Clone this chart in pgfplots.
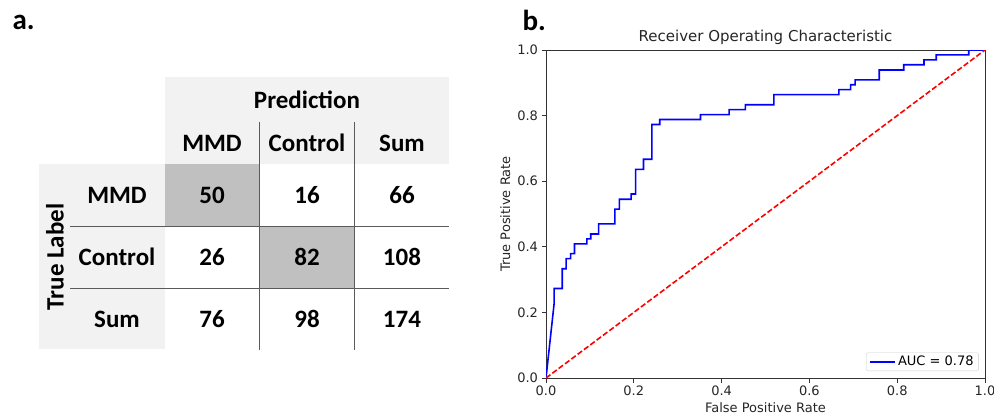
\documentclass[border=0pt]{standalone}
\usepackage{fontspec}
\setmainfont{DejaVu Sans}
\newfontfamily\calib{Carlito}
\usepackage{pgfplots}
\pgfplotsset{compat=1.18}
\usepackage{pgfplotstable}

\definecolor{cellgray}{HTML}{C0C0C0}
\definecolor{headgray}{HTML}{F2F2F2}
\definecolor{rulegray}{HTML}{5A5A5A}

% confusion matrix cells: x, y in pixel units of panel a
\pgfplotstableread{
x   y   label
212 195 50
307 195 16
402 195 66
212 257 26
307 257 82
402 257 108
212 319 76
307 319 98
402 319 174
}\cmtable

\pgfplotstableread{
fpr    tpr
0      0
0.0185 0.227
0.0185 0.273
0.037  0.273
0.037  0.333
0.046  0.333
0.046  0.364
0.056  0.364
0.056  0.379
0.065  0.379
0.065  0.409
0.093  0.409
0.093  0.424
0.102  0.424
0.102  0.439
0.120  0.439
0.120  0.470
0.157  0.470
0.157  0.515
0.167  0.515
0.167  0.545
0.194  0.545
0.194  0.561
0.204  0.561
0.204  0.636
0.222  0.636
0.222  0.667
0.241  0.667
0.241  0.773
0.259  0.773
0.259  0.788
0.352  0.788
0.352  0.803
0.417  0.803
0.417  0.818
0.454  0.818
0.454  0.833
0.519  0.833
0.519  0.864
0.667  0.864
0.667  0.879
0.694  0.879
0.694  0.894
0.704  0.894
0.704  0.909
0.759  0.909
0.759  0.939
0.815  0.939
0.815  0.955
0.861  0.955
0.861  0.970
0.889  0.970
0.889  0.985
0.963  0.985
0.963  1.0
1      1
}\roctable

\newcommand{\tabfont}{\calib\bfseries\fontsize{25}{30}\selectfont}
\newcommand{\rocfont}{\fontsize{13}{15}\selectfont}

\begin{document}
\begin{tikzpicture}
\useasboundingbox (0pt,0pt) rectangle (994pt,-418pt);

% ---- panel a: confusion matrix ----
\begin{axis}[
    at={(0pt,0pt)}, anchor=north west,
    scale only axis, width=480pt, height=418pt,
    xmin=0, xmax=480, ymin=0, ymax=418, y dir=reverse,
    hide axis, clip=false,
]
\fill[headgray] (165,77) rectangle (449,164);
\fill[headgray] (39,164) rectangle (165,349);
\fill[cellgray] (165,164) rectangle (259,226);
\fill[cellgray] (259,226) rectangle (354,288);
\draw[rulegray, line width=0.9pt] (70,226) -- (449,226);
\draw[rulegray, line width=0.9pt] (70,288) -- (449,288);
\draw[rulegray, line width=0.9pt] (259,122) -- (259,350);
\draw[rulegray, line width=0.9pt] (354,122) -- (354,350);

\node[font=\tabfont] at (307,100) {Prediction};
\node[font=\tabfont] at (212,143) {MMD};
\node[font=\tabfont] at (307,143) {Control};
\node[font=\tabfont] at (402,143) {Sum};
\node[font=\tabfont] at (117,195) {MMD};
\node[font=\tabfont] at (117,257) {Control};
\node[font=\tabfont] at (117,319) {Sum};
\node[font=\tabfont, rotate=90] at (55,257) {True Label};
\node[font=\calib\bfseries\fontsize{29}{33}\selectfont, anchor=base west] at (9,29) {a.};

\addplot[only marks, mark=none, nodes near coords, point meta=explicit symbolic,
    nodes near coords style={font=\tabfont, anchor=center}]
    table[x=x, y=y, meta=label] {\cmtable};
\end{axis}

\node[font=\calib\bfseries\fontsize{29}{33}\selectfont, anchor=base west] at (519pt,-30pt) {b.};

% ---- panel b: ROC curve ----
\begin{axis}[
    at={(546pt,-378pt)}, anchor=south west,
    scale only axis, width=439pt, height=328pt,
    xmin=0, xmax=1, ymin=0, ymax=1,
    xtick={0,0.2,...,1}, ytick={0,0.2,...,1},
    tick align=outside, major tick length=4.5pt,
    xtick pos=bottom, ytick pos=left,
    axis line style={black!80, line width=0.9pt},
    tick style={black!80, line width=0.9pt},
    /pgf/number format/assume math mode=true,
    xticklabel style={/pgf/number format/.cd, fixed, fixed zerofill, precision=1},
    yticklabel style={/pgf/number format/.cd, fixed, fixed zerofill, precision=1},
    tick label style={font=\rocfont, text=black!85},
    title={Receiver Operating Characteristic},
    title style={font=\fontsize{15}{17}\selectfont, at={(axis description cs:0.5,1.04)}, anchor=center, yshift=-6pt, text=black!85},
    xlabel={False Positive Rate},
    ylabel={True Positive Rate},
    xlabel style={font=\rocfont, at={(axis description cs:0.5,-0.09)}, anchor=center, text=black!85},
    ylabel style={font=\rocfont, at={(axis description cs:-0.093,0.5)}, anchor=center, text=black!85},
    legend style={at={(axis description cs:0.986,0.021)}, anchor=south east,
        draw=black!20, rounded corners=2pt, font=\rocfont,
        inner xsep=3pt, inner ysep=1.5pt},
    legend image code/.code={\draw[#1] (0pt,0pt) -- (25pt,0pt);},
]
\addplot[blue, line width=1.6pt] table[x=fpr, y=tpr] {\roctable};
\addlegendentry{AUC = 0.78}
\addplot[red, line width=1.6pt, dash pattern=on 5.5pt off 2.4pt, forget plot] coordinates {(0,0) (1,1)};
\end{axis}
\end{tikzpicture}
\end{document}
